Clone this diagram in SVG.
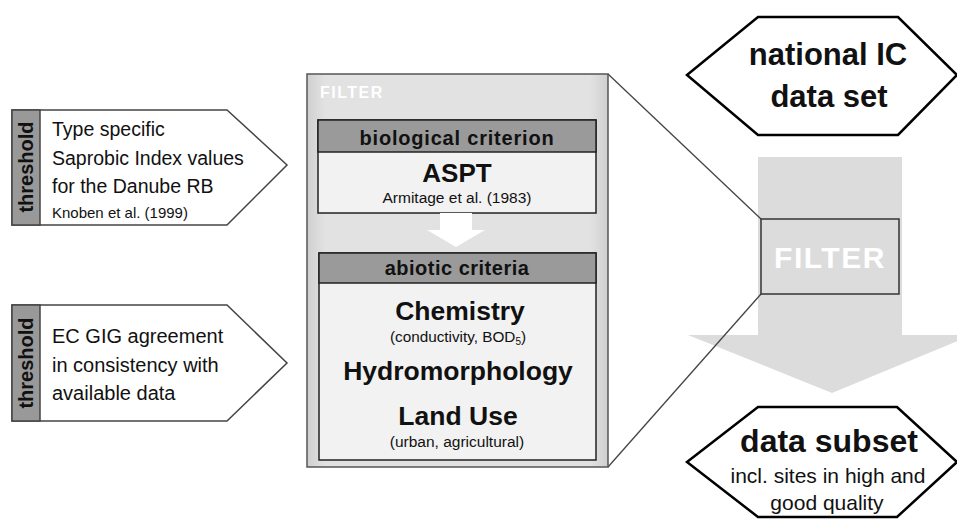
<svg xmlns="http://www.w3.org/2000/svg" width="957" height="519" viewBox="0 0 957 519">
<style>
text{font-family:"Liberation Sans",Arial,sans-serif;fill:#111}
.b{font-weight:bold}
.th{fill:#fff;stroke:#444;stroke-width:1.5}
.strip{fill:#999;stroke:#444;stroke-width:1.5}
.hex{fill:#fff;stroke:#000;stroke-width:2.5}
.hdr{fill:#9a9a9a;stroke:#222;stroke-width:1.5}
.body{fill:#f2f2f2;stroke:#222;stroke-width:1.5}
.ln{stroke:#444;stroke-width:1.3;fill:none}
</style>
<defs>
<linearGradient id="fg" x1="0" y1="0" x2="1" y2="0">
<stop offset="0" stop-color="#cfcfcf"/>
<stop offset="0.06" stop-color="#e2e2e2"/>
<stop offset="0.94" stop-color="#e2e2e2"/>
<stop offset="1" stop-color="#cfcfcf"/>
</linearGradient>
</defs>
<rect width="957" height="519" fill="#fff"/>
<g id="threshold1">
<path class="th" d="M12 110 H227 L287 165 L227 225 H12 Z"/>
<rect class="strip" x="12" y="110" width="28" height="115"/>
<text class="b" font-size="20" text-anchor="middle" transform="translate(33,167) rotate(-90)">threshold</text>
<text x="52" y="136" font-size="19.5">Type specific</text>
<text x="52" y="165" font-size="19.5">Saprobic Index values</text>
<text x="52" y="193" font-size="19.5">for the Danube RB</text>
<text x="52" y="218" font-size="15">Knoben et al. (1999)</text>
</g>
<g id="threshold2">
<path class="th" d="M12 305 H227 L287 363 L227 421 H12 Z"/>
<rect class="strip" x="12" y="305" width="28" height="116"/>
<text class="b" font-size="20" text-anchor="middle" transform="translate(33,363) rotate(-90)">threshold</text>
<text x="52" y="343" font-size="20">EC GIG agreement</text>
<text x="52" y="372" font-size="20">in consistency with</text>
<text x="52" y="400" font-size="20">available data</text>
</g>
<g id="bigarrow">
<path d="M758 157 H902 V335 H972 L832 393 L688 335 H758 Z" fill="#dcdcdc"/>
</g>
<g id="connectors">
<line class="ln" x1="608" y1="74" x2="761" y2="219"/>
<line class="ln" x1="608" y1="467" x2="761" y2="294"/>
</g>
<g id="filterbox">
<rect x="307" y="74" width="301" height="393" fill="url(#fg)" stroke="#555" stroke-width="1.5"/>
<text class="b" x="320" y="98" font-size="16" letter-spacing="1.5" style="fill:#fff">FILTER</text>
</g>
<g id="biological">
<rect class="body" x="318" y="120" width="278" height="93"/>
<rect class="hdr" x="318" y="120" width="278" height="32"/>
<text class="b" x="457" y="145" font-size="20" text-anchor="middle" letter-spacing="0.8">biological criterion</text>
<text class="b" x="457" y="182" font-size="26" text-anchor="middle">ASPT</text>
<text x="457" y="203" font-size="15.5" text-anchor="middle">Armitage et al. (1983)</text>
</g>
<g id="whitearrow">
<path d="M440 213 H472 V230 H485 L456 247 L427 230 H440 Z" fill="#fff"/>
</g>
<g id="abiotic">
<rect class="body" x="319" y="253" width="277" height="207"/>
<rect class="hdr" x="319" y="253" width="277" height="30"/>
<text class="b" x="457" y="275" font-size="20" text-anchor="middle" letter-spacing="0.5">abiotic criteria</text>
<text class="b" x="460" y="320" font-size="26.5" text-anchor="middle">Chemistry</text>
<text x="458" y="342" font-size="15.3" text-anchor="middle">(conductivity, BOD<tspan font-size="10" dy="3">5</tspan><tspan dy="-3">)</tspan></text>
<text class="b" x="458" y="380" font-size="26.5" text-anchor="middle">Hydromorphology</text>
<text class="b" x="458" y="425" font-size="26.5" text-anchor="middle">Land Use</text>
<text x="457" y="447" font-size="15.5" text-anchor="middle">(urban, agricultural)</text>
</g>
<g id="national">
<path class="hex" d="M687 75 L758 17 H898 L957 75 L898 135 H758 Z"/>
<text class="b" x="828" y="65" font-size="31" text-anchor="middle">national IC</text>
<text class="b" x="829" y="107" font-size="31" text-anchor="middle">data set</text>
</g>
<g id="filtersmall">
<rect x="761" y="219" width="138" height="75" fill="#dcdcdc" stroke="#333" stroke-width="1.5"/>
<text class="b" x="830" y="268" font-size="30" text-anchor="middle" letter-spacing="1.5" style="fill:#fff">FILTER</text>
</g>
<g id="subset">
<path class="hex" d="M687 462 L758 407 H897 L957 462 L897 517 H758 Z"/>
<text class="b" x="829" y="452" font-size="32" text-anchor="middle">data subset</text>
<text x="828" y="483" font-size="21" text-anchor="middle">incl. sites in high and</text>
<text x="827" y="510" font-size="21" text-anchor="middle">good quality</text>
</g>
</svg>
